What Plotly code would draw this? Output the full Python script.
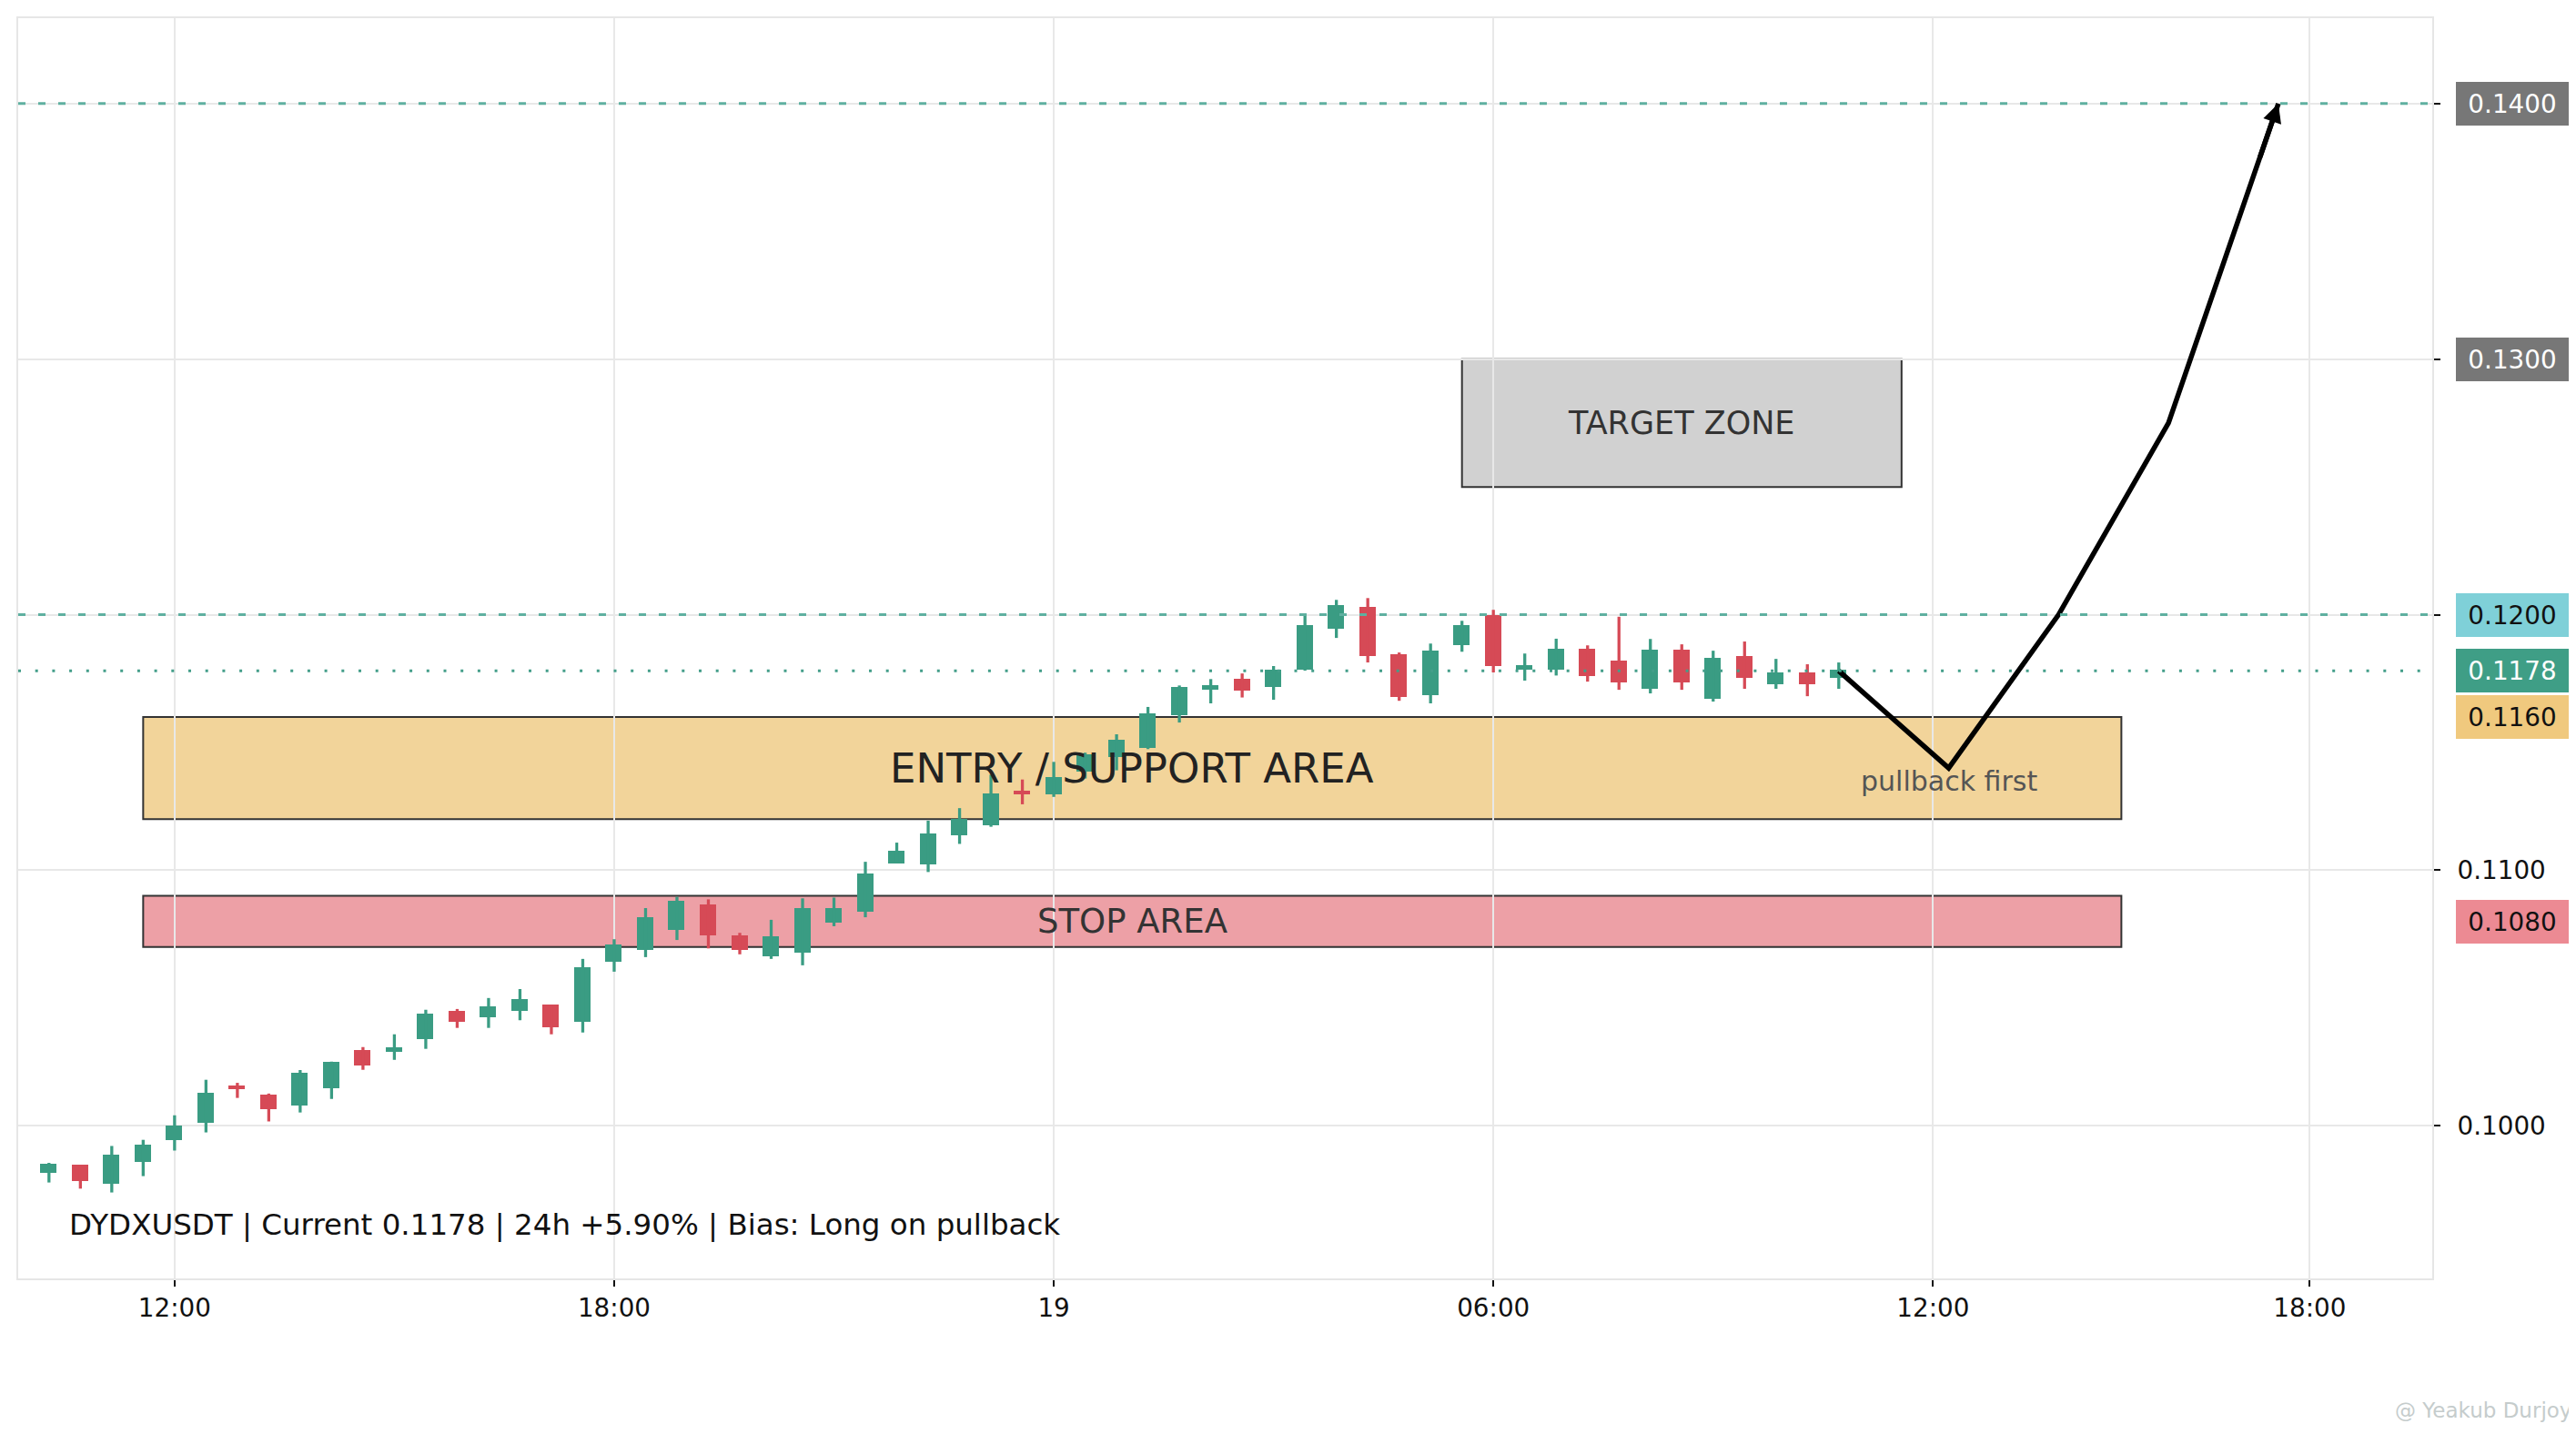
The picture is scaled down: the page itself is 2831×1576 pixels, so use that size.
import plotly.graph_objects as go

# ---------------- data ----------------
candle_idx = list(range(58))
opens = [0.09820, 0.09840, 0.09777, 0.09863, 0.09948, 0.10015, 0.10149, 0.10114, 0.10083, 0.10150,
         0.10288, 0.10294, 0.10342, 0.10444, 0.10428, 0.10453, 0.10469, 0.10412, 0.10645, 0.10691,
         0.10769, 0.10858, 0.10739, 0.10668, 0.10680, 0.10800, 0.10842, 0.11031, 0.11025, 0.11140,
         0.11181, 0.11305, 0.11300, 0.11389, 0.11445, 0.11482, 0.11609, 0.11710, 0.11742, 0.11719,
         0.11790, 0.11950, 0.12024, 0.11839, 0.11687, 0.11886, 0.11992, 0.11789, 0.11787, 0.11860,
         0.11814, 0.11714, 0.11857, 0.11676, 0.11832, 0.11730, 0.11768, 0.11758]
highs = [0.09855, 0.09842, 0.09921, 0.09945, 0.10041, 0.10180, 0.10168, 0.10126, 0.10218, 0.10251,
         0.10308, 0.10358, 0.10454, 0.10457, 0.10500, 0.10535, 0.10473, 0.10653, 0.10730, 0.10852,
         0.10896, 0.10886, 0.10755, 0.10806, 0.10890, 0.10893, 0.11033, 0.11108, 0.11194, 0.11243,
         0.11374, 0.11355, 0.11424, 0.11460, 0.11532, 0.11639, 0.11723, 0.11748, 0.11770, 0.11799,
         0.12004, 0.12058, 0.12065, 0.11852, 0.11887, 0.11976, 0.12019, 0.11848, 0.11906, 0.11880,
         0.11992, 0.11905, 0.11884, 0.11859, 0.11895, 0.11827, 0.11806, 0.11813]
lows = [0.09778, 0.09754, 0.09739, 0.09803, 0.09903, 0.09974, 0.10109, 0.10017, 0.10052, 0.10105,
        0.10219, 0.10258, 0.10301, 0.10383, 0.10383, 0.10413, 0.10358, 0.10365, 0.10603, 0.10660,
        0.10727, 0.10694, 0.10671, 0.10653, 0.10628, 0.10781, 0.10816, 0.11030, 0.10993, 0.11103,
        0.11170, 0.11258, 0.11287, 0.11359, 0.11391, 0.11474, 0.11578, 0.11653, 0.11676, 0.11667,
        0.11781, 0.11909, 0.11813, 0.11663, 0.11653, 0.11855, 0.11774, 0.11742, 0.11762, 0.11738,
        0.11706, 0.11692, 0.11706, 0.11660, 0.11710, 0.11710, 0.11681, 0.11710]
closes = [0.09844, 0.09787, 0.09879, 0.09918, 0.09995, 0.10121, 0.10146, 0.10069, 0.10199, 0.10242,
          0.10239, 0.10300, 0.10430, 0.10410, 0.10459, 0.10490, 0.10389, 0.10615, 0.10704, 0.10810,
          0.10874, 0.10748, 0.10691, 0.10736, 0.10846, 0.10846, 0.10981, 0.11070, 0.11137, 0.11194,
          0.11294, 0.11301, 0.11358, 0.11445, 0.11505, 0.11608, 0.11711, 0.11716, 0.11705, 0.11778,
          0.11951, 0.12031, 0.11842, 0.11680, 0.11853, 0.11953, 0.11804, 0.11794, 0.11860, 0.11762,
          0.11740, 0.11857, 0.11740, 0.11825, 0.11755, 0.11768, 0.11733, 0.11778]

tick_positions = [4, 18, 32, 46, 60, 72]
tick_labels = ["12:00", "18:00", "19", "06:00", "12:00", "18:00"]
y_ticks = [0.10, 0.11, 0.12, 0.13, 0.14]
y_tick_labels = ["0.1000", "0.1100", "", "", ""]  # upper labels sit under the price badges

proj_x = [57, 60.5, 64, 67.5, 71]
proj_y = [0.1178, 0.1140, 0.1200, 0.1275, 0.1400]

entry_zone = (3, 66, 0.112, 0.116)
stop_zone = (3, 66, 0.107, 0.109)
target_zone = (45, 59, 0.125, 0.130)

dashed_levels = [0.14, 0.12]
current_price = 0.1178

badge_values = [0.1400, 0.1300, 0.1200, 0.1178, 0.1160, 0.1080]
badge_bg = ["#777777", "#777777", "#7fd0d8", "#3f9e86", "#f0c97e", "#ec8a93"]
badge_fg = ["white", "white", "#111111", "white", "#111111", "#111111"]

info_text = "DYDXUSDT | Current 0.1178 | 24h +5.90% | Bias: Long on pullback"
watermark = "@ Yeakub Durjoy"

GREEN = "#3a9c83"
RED = "#d64a56"
FONT = "DejaVu Sans"

fig = go.Figure()

# wicks
for is_up, col in [(True, GREEN), (False, RED)]:
    wx, wy = [], []
    for i, o, h, l, c in zip(candle_idx, opens, highs, lows, closes):
        if (c >= o) == is_up:
            wx += [i, i, None]
            wy += [l, h, None]
    fig.add_trace(go.Scatter(x=wx, y=wy, mode="lines", line=dict(color=col, width=3.3),
                             showlegend=False, hoverinfo="skip"))

# bodies
body_cols = [GREEN if c >= o else RED for o, c in zip(opens, closes)]
fig.add_trace(go.Bar(
    x=candle_idx, y=[c - o for o, c in zip(opens, closes)], base=opens, width=0.435,
    marker=dict(color=body_cols, line=dict(color=body_cols, width=3)),
    showlegend=False, hoverinfo="skip",
))

# projection path
fig.add_trace(go.Scatter(
    x=proj_x, y=proj_y, mode="lines",
    line=dict(color="black", width=5.5), showlegend=False, hoverinfo="skip",
))

# zones
zones = [
    (entry_zone, "#f2d49a", "ENTRY / SUPPORT AREA", 45, "#222222"),
    (stop_zone, "#eda0a6", "STOP AREA", 37, "#333333"),
    (target_zone, "#d1d1d1", "TARGET ZONE", 35.0, "#333333"),
]
for (x0, x1, y0, y1), fill, label, fs, fc in zones:
    fig.add_shape(type="rect", xref="x", yref="y", x0=x0, x1=x1, y0=y0, y1=y1,
                  fillcolor=fill, line=dict(color="#333333", width=2), layer="below")
    fig.add_annotation(x=(x0 + x1) / 2, y=(y0 + y1) / 2, xref="x", yref="y",
                       text=label, showarrow=False,
                       font=dict(family=FONT, size=fs, color=fc))

# level lines
for lv in dashed_levels:
    fig.add_shape(type="line", xref="paper", yref="y", x0=0, x1=1, y0=lv, y1=lv,
                  line=dict(color="#5fb0a0", width=3, dash="8px,14px"), layer="above")
fig.add_shape(type="line", xref="paper", yref="y", x0=0, x1=1, y0=current_price, y1=current_price,
              line=dict(color="#449e8a", width=3, dash="3px,15.7px"), layer="above")

# arrow head at projection end
fig.add_annotation(x=proj_x[-1], y=proj_y[-1], xref="x", yref="y",
                   ax=proj_x[-1] - 0.6, ay=proj_y[-1] - 0.6 * (proj_y[-1] - proj_y[-2]) / (proj_x[-1] - proj_x[-2]),
                   axref="x", ayref="y", text="", showarrow=True,
                   arrowhead=2, arrowsize=0.75, arrowwidth=5.5, arrowcolor="black")

fig.add_annotation(x=proj_x[1], y=0.11350, xref="x", yref="y", text="pullback first",
                   showarrow=False, font=dict(family=FONT, size=30, color="#555555"))

fig.add_annotation(x=0.0203, y=0.0425, xref="paper", yref="paper", xanchor="left", yanchor="middle",
                   text=info_text, showarrow=False, font=dict(family=FONT, size=32.5, color="#111111"))

# badges on right
for v, bg, fg in zip(badge_values, badge_bg, badge_fg):
    fig.add_annotation(x=1.0098, y=v, xref="paper", yref="y", xanchor="left", yanchor="middle",
                       text=f"{v:.4f}", showarrow=False, bgcolor=bg, borderpad=8, borderwidth=0,
                       width=108, height=32, align="center",
                       font=dict(family=FONT, size=27.8, color=fg))

# watermark (bottom-right corner of the page)
fig.add_annotation(x=1.0585, y=-0.1045, xref="paper", yref="paper", xanchor="right", yanchor="middle",
                   text=watermark, showarrow=False,
                   font=dict(family=FONT, size=23, color="#c5cccc"))

fig.update_layout(
    width=2831, height=1576,
    margin=dict(l=10, r=166, t=10, b=179),
    paper_bgcolor="white", plot_bgcolor="white",
    font=dict(family=FONT, size=27.8, color="#222222"),
    bargap=0, barmode="overlay",
    showlegend=False,
)
fig.update_xaxes(
    range=[-0.98, 75.9],
    tickmode="array", tickvals=tick_positions, ticktext=tick_labels,
    showgrid=True, gridcolor="#e8e8e8", gridwidth=2, zeroline=False,
    showline=True, mirror=True, linecolor="#e6e6e6", linewidth=2,
    ticks="outside", ticklen=7, tickwidth=2, tickcolor="#111111",
    tickfont=dict(family=FONT, size=27.8, color="#111111"),
)
fig.update_yaxes(
    range=[0.094027, 0.143342], side="right",
    tickmode="array", tickvals=y_ticks, ticktext=y_tick_labels,
    showgrid=True, gridcolor="#e8e8e8", gridwidth=2, zeroline=False,
    showline=True, mirror=True, linecolor="#e6e6e6", linewidth=2,
    ticks="outside", ticklen=7, tickwidth=2, tickcolor="#111111",
    ticklabelstandoff=13,
    tickfont=dict(family=FONT, size=27.8, color="#111111"),
)

fig.write_html("out.html")
